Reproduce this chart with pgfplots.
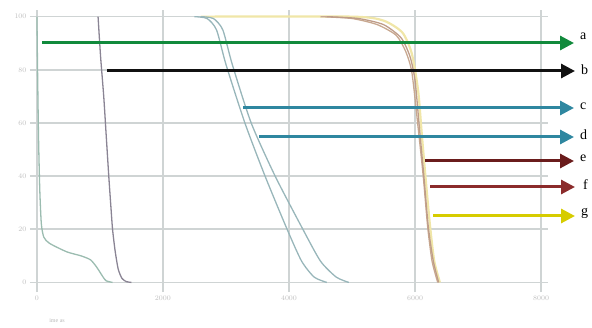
\documentclass[border=0pt]{standalone}
\usepackage{pgfplots}
\pgfplotsset{compat=1.18}
\usepackage{fontspec}
\setmainfont{Liberation Serif}
\usetikzlibrary{arrows.meta}
\definecolor{cA}{HTML}{9BBCB0}
\definecolor{cB}{HTML}{8A8494}
\definecolor{cC}{HTML}{98B6BA}
\definecolor{cE}{HTML}{C8A890}
\definecolor{cF}{HTML}{BE9C88}
\definecolor{cG}{HTML}{F0E6A8}
\definecolor{aA}{HTML}{118A3C}
\definecolor{aB}{HTML}{111111}
\definecolor{aC}{HTML}{2F87A0}
\definecolor{aE}{HTML}{6A1C1C}
\definecolor{aF}{HTML}{8B2B2B}
\definecolor{aG}{HTML}{D6CC00}
\definecolor{gridc}{HTML}{CFD4D4}
\begin{document}
\begin{tikzpicture}[x=1pt,y=1pt]
\path (0,0) rectangle (592,327);
\begin{axis}[
  at={(30pt,35pt)}, anchor=south west,
  scale only axis, width=518pt, height=282pt,
  xmin=-110, xmax=8110, ymin=-3.6, ymax=102.5,
  xtick={0,2000,4000,6000,8000},
  ytick={0,20,40,60,80,100},
  scaled x ticks=false,
  xticklabel style={font=\fontsize{7}{8}\selectfont, text=gray!50},
  yticklabel style={font=\fontsize{7}{8}\selectfont, text=gray!50},
  /pgf/number format/1000 sep={},
  grid=major,
  major grid style={gridc, line width=1.6pt},
  axis line style={draw=none},
  major tick length=0pt,
  clip=false,
]
\addplot[cG, line width=2.2pt, smooth, tension=0.4] coordinates {(2600,100) (5000,100) (5500,98.5) (5800,94) (5950,86) (6050,72) (6110,55) (6165,40) (6235,22) (6305,8) (6395,0)};
\addplot[cA, line width=1.3pt, smooth, tension=0.4] coordinates {(0,100) (10,80) (25,55) (45,35) (70,22) (110,17) (200,14.7) (475,11.5) (700,10) (850,8.5) (950,5.7) (1050,2) (1100,0.6) (1200,0)};
\addplot[cB, line width=1.3pt, smooth, tension=0.4] coordinates {(970,100) (1010,85) (1060,70) (1100,55) (1140,40) (1175,28) (1200,20) (1240,12) (1290,5) (1350,1.5) (1420,0.3) (1500,0)};
\addplot[cC, line width=1.3pt, smooth, tension=0.4] coordinates {(2500,100) (2700,99.3) (2850,95) (3000,82) (3300,60) (3620,40) (3970,20) (4200,8) (4400,2) (4600,0)};
\addplot[cC, line width=1.3pt, smooth, tension=0.4] coordinates {(2600,100) (2800,99.3) (2950,95) (3100,82) (3400,60) (3780,40) (4220,20) (4500,8) (4750,2) (4950,0)};
\addplot[cE, line width=1.3pt, smooth, tension=0.4] coordinates {(4500,100) (5000,99.3) (5400,97) (5700,93) (5850,87) (5950,79) (6050,58) (6130,40) (6200,21) (6270,8) (6360,0)};
\addplot[cF, line width=1.3pt, smooth, tension=0.4] coordinates {(4600,100) (5100,99.3) (5500,97) (5780,92) (5920,85) (6000,76) (6070,58) (6140,40) (6210,21) (6290,8) (6375,0)};
\end{axis}
\node[font=\fontsize{6}{7}\selectfont, text=gray!55] at (57,6) {ime as};
\begin{scope}[line width=3pt]
\draw[aA, -{Triangle[length=14pt,width=14pt]}] (42,284) -- (574,284);
\draw[aB, -{Triangle[length=14pt,width=14pt]}] (107,256) -- (575,256);
\draw[aC, -{Triangle[length=14pt,width=14pt]}] (243,219) -- (574,219);
\draw[aC, -{Triangle[length=14pt,width=14pt]}] (259,190) -- (574,190);
\draw[aE, -{Triangle[length=14pt,width=14pt]}] (425,166) -- (574,166);
\draw[aF, -{Triangle[length=14pt,width=14pt]}] (430,140) -- (575,140);
\draw[aG, -{Triangle[length=14pt,width=14pt]}] (433,111) -- (575,111);
\end{scope}
\begin{scope}[font=\fontsize{14}{14}\selectfont, inner sep=0pt, anchor=base west]
\node at (580,287) {a};
\node at (581,252) {b};
\node at (580,217) {c};
\node at (580,187) {d};
\node at (580,165) {e};
\node at (583,137) {f};
\node at (581,111) {g};
\end{scope}
\end{tikzpicture}
\end{document}
